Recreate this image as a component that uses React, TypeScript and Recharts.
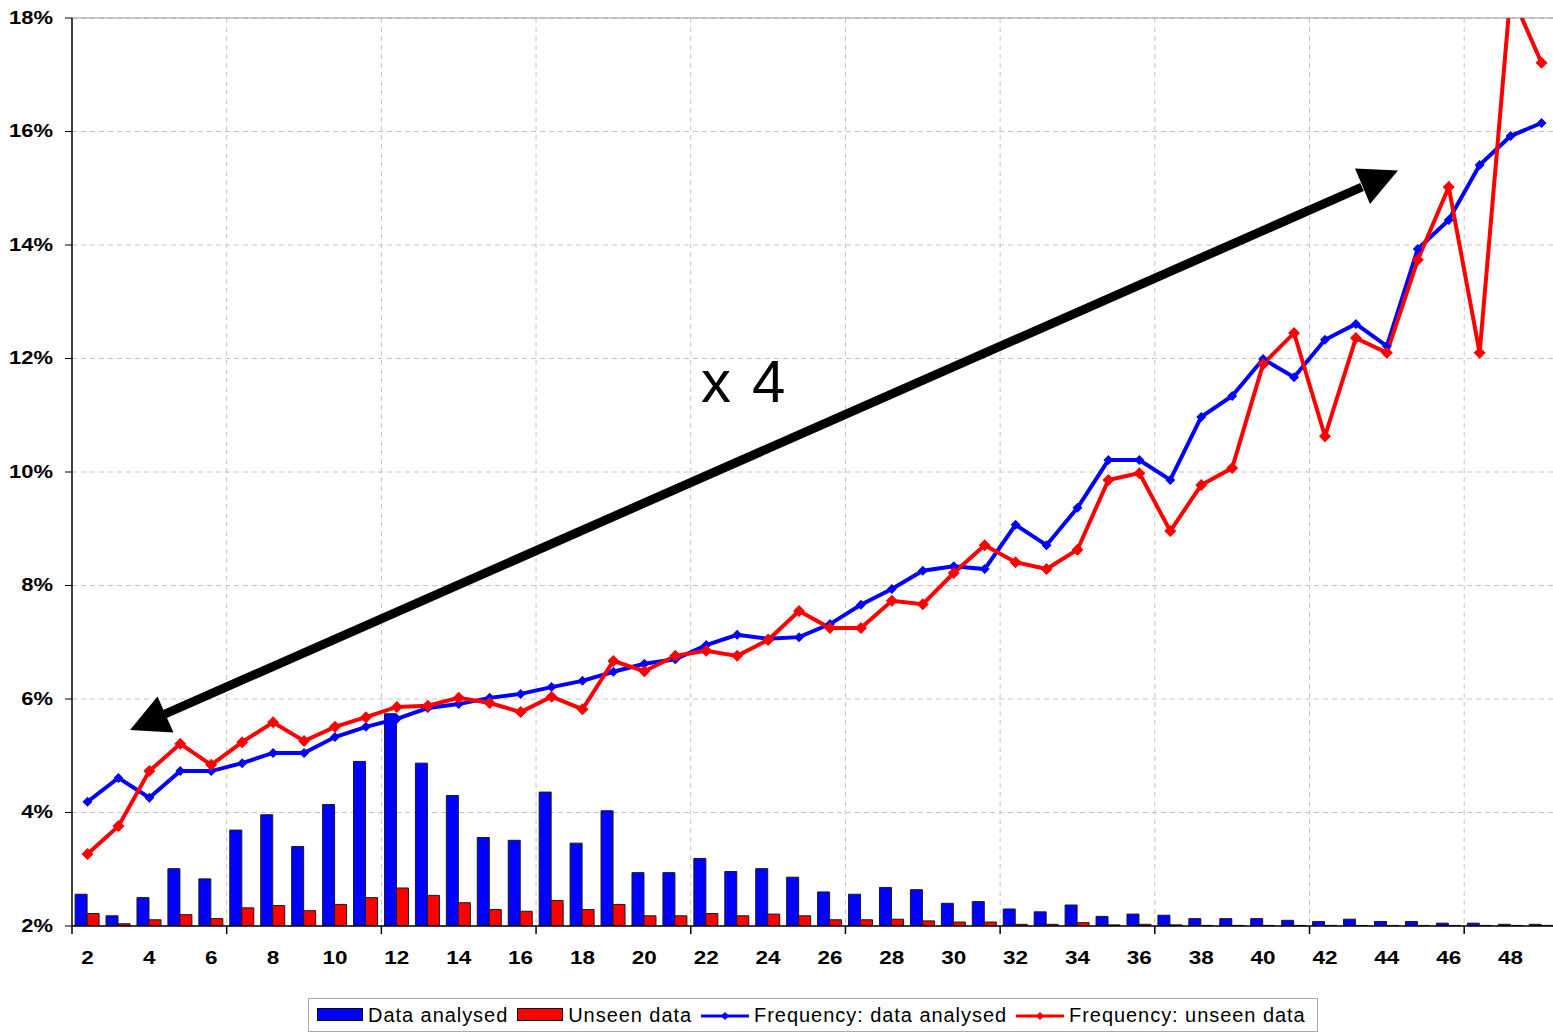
import React from 'react';
import { ComposedChart, Bar, Line, XAxis, YAxis, CartesianGrid, Legend, ReferenceLine } from 'recharts';

// group sizes on the x axis
const categories = [
  2, 3, 4, 5, 6, 7, 8, 9, 10, 11, 12, 13, 14, 15, 16, 17, 18, 19, 20, 21, 22, 23, 24, 25,
  26, 27, 28, 29, 30, 31, 32, 33, 34, 35, 36, 37, 38, 39, 40, 41, 42, 43, 44, 45, 46, 47, 48, 49,
];

// bars (read against the % axis, baseline 2%)
const dataAnalysed = [
  2.56, 2.18, 2.5, 3.01, 2.83, 3.69, 3.96, 3.4, 4.14, 4.9, 5.74, 4.87, 4.3, 3.56, 3.51, 4.36,
  3.46, 4.03, 2.94, 2.94, 3.19, 2.96, 3.01, 2.86, 2.6, 2.56, 2.68, 2.64, 2.4, 2.43, 2.3, 2.25,
  2.37, 2.17, 2.21, 2.19, 2.13, 2.13, 2.13, 2.1, 2.08, 2.12, 2.08, 2.08, 2.05, 2.05, 2.03, 2.03,
];
const unseenData = [
  2.22, 2.04, 2.11, 2.2, 2.13, 2.32, 2.36, 2.27, 2.38, 2.5, 2.67, 2.54, 2.41, 2.29, 2.26, 2.45,
  2.29, 2.38, 2.18, 2.18, 2.22, 2.18, 2.21, 2.18, 2.11, 2.11, 2.12, 2.09, 2.07, 2.07, 2.03, 2.03,
  2.06, 2.02, 2.03, 2.02, 2.01, 2.01, 2.01, 2.01, 2.01, 2.01, 2.01, 2.01, 2.01, 2.01, 2.01, 2.01,
];

// frequency lines (%)
const freqAnalysed = [
  4.19, 4.61, 4.26, 4.73, 4.73, 4.87, 5.05, 5.05, 5.33, 5.51, 5.65, 5.84, 5.91, 6.02, 6.09, 6.21,
  6.32, 6.48, 6.62, 6.7, 6.95, 7.13, 7.06, 7.09, 7.32, 7.66, 7.94, 8.26, 8.34, 8.29, 9.07, 8.71,
  9.37, 10.21, 10.21, 9.86, 10.97, 11.34, 11.99, 11.67, 12.33, 12.61, 12.22, 13.93, 14.44, 15.41, 15.92, 16.15,
];
const freqUnseen = [
  3.27, 3.76, 4.73, 5.21, 4.84, 5.24, 5.59, 5.26, 5.51, 5.68, 5.86, 5.88, 6.02, 5.93, 5.77, 6.04,
  5.82, 6.67, 6.49, 6.76, 6.85, 6.76, 7.04, 7.55, 7.25, 7.25, 7.73, 7.67, 8.22, 8.71, 8.41, 8.29,
  8.63, 9.86, 9.98, 8.96, 9.77, 10.07, 11.9, 12.45, 10.63, 12.36, 12.1, 13.74, 15.02, 12.1, 18.45, 17.21,
];

const yTicks = [2, 4, 6, 8, 10, 12, 14, 16, 18];

const data = categories.map((c, i) => ({
  group: c,
  analysed: dataAnalysed[i],
  unseen: unseenData[i],
  freqAnalysed: freqAnalysed[i],
  freqUnseen: freqUnseen[i],
}));

const W = 1557;
const H = 1033;
const margin = { top: 18, right: 0, left: 0, bottom: 33 };
const Y_AXIS_W = 72;
const PLOT_LEFT = margin.left + Y_AXIS_W;
const BAND = (W - margin.right - PLOT_LEFT) / categories.length;
const gridX = [1, 2, 3, 4, 5, 6, 7, 8, 9].map((k) => PLOT_LEFT + k * 5 * BAND);

const FONT = '"Liberation Sans", Arial, sans-serif';

const diamond = (color: string, r: number) => (props: any) => {
  const { cx, cy, index } = props;
  if (cx == null || cy == null) return <g key={index} />;
  return (
    <path
      key={index}
      d={`M${cx},${cy - r}L${cx + r},${cy}L${cx},${cy + r}L${cx - r},${cy}Z`}
      fill={color}
    />
  );
};

const XTick = (props: any) => {
  const { x, y, payload } = props;
  const left = x - BAND / 2;
  return (
    <g>
      {payload.index % 5 === 0 && (
        <line x1={left} x2={left} y1={y} y2={y + 8} stroke="#000" strokeWidth={1.5} />
      )}
      {payload.value % 2 === 0 && (
        <text
          x={x}
          y={y + 38}
          textAnchor="middle"
          fontWeight="bold"
          fontSize={18}
          fontFamily={FONT}
          fill="#000"
          transform={`translate(${x} 0) scale(1.25 1) translate(${-x} 0)`}
        >
          {payload.value}
        </text>
      )}
    </g>
  );
};

const YTick = (props: any) => {
  const { x, y, payload } = props;
  return (
    <text
      x={x}
      y={y + 6}
      textAnchor="end"
      fontWeight="bold"
      fontSize={18}
      fontFamily={FONT}
      fill="#000"
      transform={`translate(${x} 0) scale(1.22 1) translate(${-x} 0)`}
    >
      {`${payload.value}%`}
    </text>
  );
};

const BarSwatch = ({ color }: { color: string }) => (
  <svg width={46} height={14}>
    <rect x={0.5} y={0.5} width={45} height={12} fill={color} stroke="#000" />
  </svg>
);

const LineSwatch = ({ color }: { color: string }) => (
  <svg width={48} height={14}>
    <line x1={0} x2={48} y1={8} y2={8} stroke={color} strokeWidth={3} />
    <path d="M24,4L28,8L24,12L20,8Z" fill={color} />
  </svg>
);

const LegendBox = () => {
  const item = { display: 'flex', alignItems: 'center', marginRight: 9 } as const;
  const label = { marginLeft: 5 } as const;
  return (
    <div
      style={{
        boxSizing: 'border-box',
        width: 1010,
        height: 34,
        border: '1px solid #aaa',
        display: 'flex',
        alignItems: 'center',
        paddingLeft: 8,
        fontFamily: FONT,
        fontSize: 20,
        letterSpacing: 0.95,
        color: '#000',
        background: '#fff',
        whiteSpace: 'nowrap',
      }}
    >
      <div style={item}>
        <BarSwatch color="#0000ff" />
        <span style={label}>Data analysed</span>
      </div>
      <div style={item}>
        <BarSwatch color="#ff0000" />
        <span style={label}>Unseen data</span>
      </div>
      <div style={item}>
        <LineSwatch color="#0000ff" />
        <span style={label}>Frequency: data analysed</span>
      </div>
      <div style={item}>
        <LineSwatch color="#ff0000" />
        <span style={label}>Frequency: unseen data</span>
      </div>
    </div>
  );
};

const App: React.FC = () => {
  return (
    <div
      style={{
        position: 'absolute',
        left: 0,
        top: 0,
        width: 1553,
        height: H,
        overflow: 'hidden',
        background: '#fff',
      }}
    >
      <ComposedChart
        width={W}
        height={H}
        data={data}
        margin={margin}
        barCategoryGap="10%"
        barGap={0}
      >
        <CartesianGrid stroke="#c4c4c4" strokeDasharray="5 4" verticalPoints={gridX} />
        <ReferenceLine y={18} stroke="#9a9a9a" strokeWidth={1} />
        <XAxis
          dataKey="group"
          type="category"
          interval={0}
          tick={XTick}
          tickLine={false}
          tickSize={0}
          tickMargin={0}
          height={40}
          axisLine={{ stroke: '#000', strokeWidth: 1.5 }}
        />
        <YAxis
          width={Y_AXIS_W}
          domain={[2, 18]}
          ticks={yTicks}
          interval={0}
          allowDataOverflow
          tick={YTick}
          tickSize={7}
          tickMargin={12}
          tickLine={{ stroke: '#000' }}
          axisLine={{ stroke: '#000', strokeWidth: 1.5 }}
        />
        <Bar dataKey="analysed" fill="#0000ff" stroke="#1a1a1a" strokeWidth={1} isAnimationActive={false} />
        <Bar dataKey="unseen" fill="#ff0000" stroke="#1a1a1a" strokeWidth={1} isAnimationActive={false} />
        <Line
          type="linear"
          dataKey="freqAnalysed"
          stroke="#0000ff"
          strokeWidth={4}
          dot={diamond('#0000ff', 5)}
          activeDot={false}
          isAnimationActive={false}
        />
        <Line
          type="linear"
          dataKey="freqUnseen"
          stroke="#ff0000"
          strokeWidth={4}
          dot={diamond('#ff0000', 6)}
          activeDot={false}
          isAnimationActive={false}
        />
        <Legend
          verticalAlign="bottom"
          content={<LegendBox />}
          wrapperStyle={{ left: 308, bottom: 1, width: 1010 }}
        />
      </ComposedChart>
      <svg
        width={1553}
        height={H}
        style={{ position: 'absolute', left: 0, top: 0, pointerEvents: 'none' }}
      >
        <line x1={165} y1={714} x2={1362} y2={187} stroke="#000" strokeWidth={9} />
        <polygon points="130,730 157.5,696.5 173.5,732.5" fill="#000" />
        <polygon points="1398,170.5 1355,168.5 1370,204" fill="#000" />
        <text fontSize={60} fontFamily={FONT} fill="#000" y={402}>
          <tspan x={701}>x</tspan>
          <tspan x={752}>4</tspan>
        </text>
      </svg>
    </div>
  );
};

export default App;
